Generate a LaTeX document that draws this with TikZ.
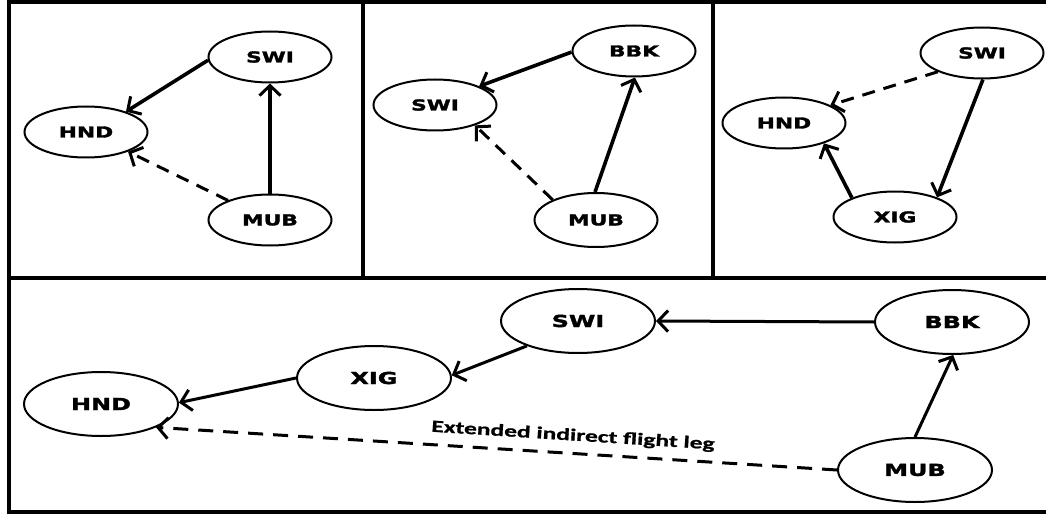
\documentclass[tikz,border=0pt]{standalone}
\usepackage{fontspec}
\newfontfamily\portfont[FakeStretch=1.45,FakeBold=2]{DejaVu Sans Bold}
\newfontfamily\notefont[FakeStretch=1.5,FakeBold=1]{Carlito Bold}
\usetikzlibrary{shapes.geometric,arrows.meta}

\tikzset{
  frame/.style={line width=3.4pt},
  port/.style={draw, ellipse, line width=2pt, inner sep=0pt,
    minimum width=123pt, minimum height=51pt,
    font=\portfont\fontsize{15}{17}\selectfont},
  bigport/.style={port, minimum width=154pt, minimum height=64pt,
    font=\portfont\fontsize{16.5}{19}\selectfont},
  leg/.style={line width=3.6pt, -{Straight Barb[length=10pt,width=21pt,line width=3pt]}},
  bigleg/.style={leg, line width=3pt},
  indirect/.style={leg, line width=3pt, dash pattern=on 13pt off 9pt},
  bigindirect/.style={leg, line width=3pt, dash pattern=on 15pt off 10pt},
}

\begin{document}
\begin{tikzpicture}[x=1pt,y=1pt]
\useasboundingbox (0,0) rectangle (1046,515);

% panel frames
\draw[frame] (9,3) rectangle (1052,513);
\draw[frame] (9,237) -- (1052,237);
\draw[frame] (363,237) -- (363,513);
\draw[frame] (713,237) -- (713,513);

% panel 1
\node[port] (a-swi) at (270,458) {SWI};
\node[port] (a-hnd) at (86,383) {HND};
\node[port] (a-mub) at (270,295) {MUB};
\draw[leg] (a-swi.183) -- (a-hnd.27);
\draw[leg] (a-mub.90) -- (a-swi.270);
\draw[indirect] (a-mub.155) -- (a-hnd.335);

% panel 2
\node[port] (b-bbk) at (634,464) {BBK};
\node[port] (b-swi) at (435,410) {SWI};
\node[port, minimum height=54pt] (b-mub) at (596,295) {MUB};
\draw[leg] (b-bbk.181) -- (b-swi.23);
\draw[leg] (b-mub.92) -- (b-bbk.272);
\draw[indirect] (b-mub.155) -- (b-swi.333);

% panel 3
\node[port] (c-swi) at (982,462) {SWI};
\node[port] (c-hnd) at (784,392) {HND};
\node[port] (c-xig) at (895,298) {XIG};
\draw[indirect] (c-swi.203) -- (c-hnd.21);
\draw[leg] (c-swi.272) -- (c-xig.25);
\draw[leg] (c-xig.156) -- (c-hnd.333);

% extended route
\node[bigport] (d-hnd) at (101,111) {HND};
\node[bigport] (d-xig) at (374,137) {XIG};
\node[bigport] (d-swi) at (578,194) {SWI};
\node[bigport] (d-bbk) at (952,193) {BBK};
\node[bigport] (d-mub) at (915,45) {MUB};
\draw[bigleg] (d-bbk.180) -- (d-swi.0);
\draw[bigleg] (d-swi.206) -- (d-xig.2);
\draw[bigleg] (d-xig.180) -- (d-hnd.1);
\draw[bigleg] (d-mub.90) -- (d-bbk.272);
\draw[bigindirect] (d-mub.180) -- (d-hnd.337);
\node[rotate=-3.6, font=\notefont\fontsize{17}{20}\selectfont]
  (d-note) at (573,79) {Extended indirect flight leg};
\end{tikzpicture}
\end{document}
